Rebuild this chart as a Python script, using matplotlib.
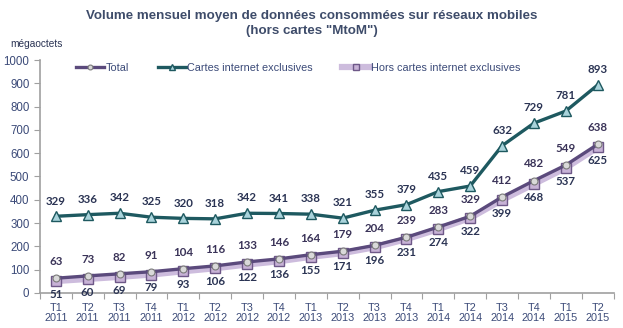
import matplotlib
matplotlib.use("Agg")
import matplotlib.pyplot as plt
import numpy as np

quarters = ["T1", "T2", "T3", "T4"] * 4 + ["T1", "T2"]
years = [str(y) for y in (2011,) * 4 + (2012,) * 4 + (2013,) * 4 + (2014,) * 4 + (2015,) * 2]
categories = [f"{q}\n{y}" for q, y in zip(quarters, years)]

cartes = [329, 336, 342, 325, 320, 318, 342, 341, 338, 321, 355, 379, 435, 459, 632, 729, 781, 893]
total = [63, 73, 82, 91, 104, 116, 133, 146, 164, 179, 204, 239, 283, 329, 412, 482, 549, 638]
hors_cartes = [51, 60, 69, 79, 93, 106, 122, 136, 155, 171, 196, 231, 274, 322, 399, 468, 537, 625]

plt.rcParams["font.family"] = ["Liberation Sans", "DejaVu Sans"]

fig = plt.figure(figsize=(6.23, 3.28), dpi=100)
ax = fig.add_axes([0.064, 0.107, 0.921, 0.71])

x = np.arange(len(categories))
label_color = "#2B3454"

ax.plot(x, hors_cartes, color="#CDBCDD", lw=4.5, marker="s", ms=6.5,
        mfc="#C7B2D6", mec="#6E5888", mew=1.0, zorder=3,
        label="Hors cartes internet exclusives")
ax.plot(x, total, color="#5B4A7C", lw=2.4, marker="o", ms=5,
        mfc="#D9D9D9", mec="#7A7A7A", mew=0.8, zorder=4, label="Total")
ax.plot(x, cartes, color="#1E5960", lw=2.4, marker="^", ms=7,
        mfc="#A9D3DB", mec="#1E5960", mew=1.0, zorder=5,
        label="Cartes internet exclusives")

lab_font = dict(family=["Lato", "DejaVu Sans"], fontweight="bold", fontsize=8.3,
                ha="center", va="center")
for xi, v in zip(x, cartes):
    ax.annotate(str(v), (xi, v), xytext=(0, 11), textcoords="offset points",
                color=label_color, **lab_font)
for xi, v in zip(x, total):
    ax.annotate(str(v), (xi, v), xytext=(0, 12), textcoords="offset points",
                color="#3A3358", **lab_font)
for xi, v in zip(x, hors_cartes):
    ax.annotate(str(v), (xi, v), xytext=(0, -9.5), textcoords="offset points",
                color=label_color, **lab_font)

ax.set_xlim(-0.5, len(categories) - 0.5)
ax.set_ylim(0, 1000)
ax.set_yticks(np.arange(0, 1001, 100))
ax.tick_params(axis="y", labelsize=8.3, labelcolor="#3B4A78", color="#A0A0A0",
               length=4, direction="out")

ax.set_xticks(np.arange(-0.5, len(categories), 1.0))
ax.set_xticklabels([])
ax.set_xticks(x, minor=True)
ax.set_xticklabels(categories, minor=True)
ax.tick_params(axis="x", which="major", color="#A0A0A0", length=4, direction="out")
ax.tick_params(axis="x", which="minor", length=0, labelsize=7.8, labelcolor="#3B4A78",
               pad=7)
for lbl in ax.get_xticklabels(minor=True):
    lbl.set_linespacing(1.0)

for side in ("top", "right"):
    ax.spines[side].set_visible(False)
for side in ("left", "bottom"):
    ax.spines[side].set_color("#A0A0A0")
    ax.spines[side].set_linewidth(1.2)

handles, labels = ax.get_legend_handles_labels()
order = [1, 2, 0]
leg = fig.legend([handles[i] for i in order], [labels[i] for i in order],
                 loc="center left", bbox_to_anchor=(76 / 623, 1 - 68 / 328),
                 ncol=3, frameon=False, borderpad=0, borderaxespad=0,
                 fontsize=7.8, handlelength=2.6, handletextpad=0.1, columnspacing=2.7,
                 markerscale=0.7)
for t in leg.get_texts():
    t.set_color("#3B4A78")

fig.text(0.5, 0.928, "Volume mensuel moyen de données consommées sur réseaux mobiles\n(hors cartes \"MtoM\")",
         ha="center", va="center", fontsize=9.6, fontweight="bold", color="#3E4C6A",
         linespacing=1.3)
fig.text(0.016, 0.866, "mégaoctets", ha="left", va="center", fontsize=7.3, color="#2B3454")

fig.savefig("out.png", dpi=100)
